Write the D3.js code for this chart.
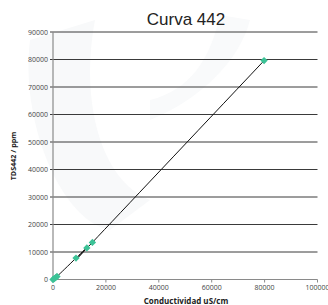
<!DOCTYPE html>
<html><head><meta charset="utf-8">
<script src="https://cdn.jsdelivr.net/npm/d3@7"></script>
<style>body{margin:0;background:#fff;}svg{display:block;}</style>
</head><body>
<script>
const conductividad = [0, 500, 1000, 1500, 8700, 12800, 14900, 79800];
const tds = [0, 350, 700, 1100, 7800, 11500, 13500, 79600];
const xTicks = [0, 20000, 40000, 60000, 80000, 100000];
const yTicks = [0, 10000, 20000, 30000, 40000, 50000, 60000, 70000, 80000, 90000];

const W = 328, H = 305;
const m = {l: 53, r: 10.5, t: 32, b: 25.5};
const svg = d3.select("body").append("svg").attr("width", W).attr("height", H);

// faint watermark
svg.append("path").attr("d","M30,40 C20,120 60,220 110,230 L150,200 C100,180 80,100 95,20 Z").attr("fill","#f8f9fa");
svg.append("path").attr("d","M150,120 C200,100 240,60 250,20 L220,15 C210,60 190,90 150,100 Z").attr("fill","#f9fafb");

const x = d3.scaleLinear().domain([0, 100000]).range([m.l, W - m.r]);
const y = d3.scaleLinear().domain([0, 90000]).range([H - m.b, m.t]);

// gridlines
svg.append("g").selectAll("line").data(yTicks.filter(d => d > 0)).join("line")
  .attr("x1", m.l - 3).attr("x2", W - m.r)
  .attr("y1", d => y(d)).attr("y2", d => y(d))
  .attr("stroke", "#3a3a3a").attr("stroke-width", 1);

// y axis line
svg.append("line").attr("x1", m.l).attr("x2", m.l).attr("y1", m.t).attr("y2", H - m.b)
  .attr("stroke", "#8a8a8a").attr("stroke-width", 1.2);
// x axis line
svg.append("line").attr("x1", m.l - 3).attr("x2", W - m.r).attr("y1", y(0)).attr("y2", y(0))
  .attr("stroke", "#8a8a8a").attr("stroke-width", 1.2);
// x ticks
svg.append("g").selectAll("line").data(xTicks).join("line")
  .attr("x1", d => x(d)).attr("x2", d => x(d))
  .attr("y1", y(0)).attr("y2", y(0) + 3)
  .attr("stroke", "#8a8a8a").attr("stroke-width", 1);

const font = "Open Sans, DejaVu Sans, sans-serif";
svg.append("g").selectAll("text").data(yTicks).join("text")
  .attr("x", m.l - 5).attr("y", d => y(d) + 2.5)
  .attr("text-anchor", "end").attr("font-family", font).attr("font-size", 7)
  .attr("fill", "#444").text(d => d);
svg.append("g").selectAll("text").data(xTicks).join("text")
  .attr("x", d => x(d)).attr("y", y(0) + 10.5)
  .attr("text-anchor", "middle").attr("font-family", font).attr("font-size", 7)
  .attr("fill", "#444").text(d => d);

svg.append("text").attr("x", 186).attr("y", 25).attr("text-anchor", "middle")
  .attr("font-family", "Liberation Sans, Arial, sans-serif").attr("font-size", 17).attr("fill", "#222").text("Curva 442");
svg.append("text").attr("x", 186).attr("y", 303.5).attr("text-anchor", "middle")
  .attr("font-family", font).attr("font-weight", "bold").attr("font-size", 8).attr("fill", "#222").text("Conductividad uS/cm");
svg.append("text").attr("transform", "translate(16,156) rotate(-90)").attr("text-anchor", "middle")
  .attr("font-family", font).attr("font-weight", "bold").attr("font-size", 7.2).attr("fill", "#222").text("TDS442 / ppm");

const pts = conductividad.map((c, i) => [c, tds[i]]);
svg.append("path").datum(pts)
  .attr("d", d3.line().x(d => x(d[0])).y(d => y(d[1])).curve(d3.curveNatural))
  .attr("fill", "none").attr("stroke", "#111").attr("stroke-width", 1);

svg.append("g").selectAll("path").data(pts).join("path")
  .attr("transform", d => `translate(${x(d[0])},${y(d[1])})`)
  .attr("d", d3.symbol().type(d3.symbolDiamond2 || d3.symbolDiamond).size(34))
  .attr("fill", "#3cc296");
</script>
</body></html>
